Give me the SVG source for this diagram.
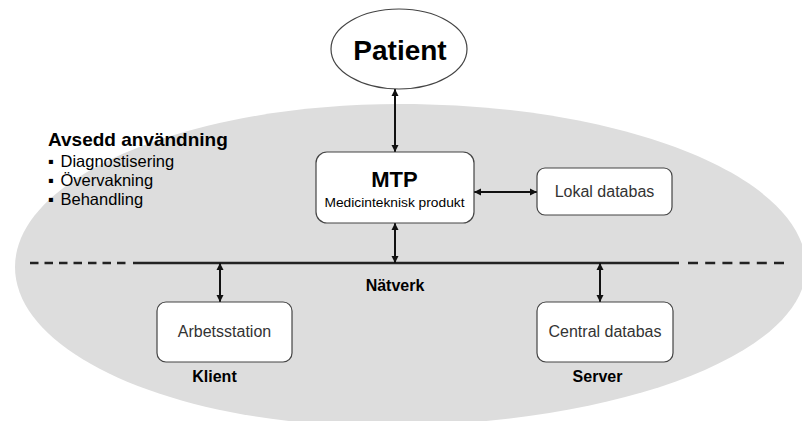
<svg xmlns="http://www.w3.org/2000/svg" width="802" height="421" viewBox="0 0 802 421">
<style>
  text { font-family: "Liberation Sans", Arial, "DejaVu Sans", sans-serif; fill: #000; }
  .box { fill: #fff; stroke: #444; stroke-width: 1.2; }
  .lbl { font-size: 16px; fill: #333; text-anchor: middle; }
  .bold { font-weight: bold; }
  .conn { stroke: #111; stroke-width: 2; fill: none; marker-start: url(#ah); marker-end: url(#ah); }
  .net { stroke: #222; stroke-width: 2.5; fill: none; }
</style>
<defs>
  <marker id="ah" markerUnits="userSpaceOnUse" markerWidth="8" markerHeight="8" refX="7" refY="3.5" orient="auto-start-reverse" viewBox="0 0 8 7">
    <path d="M0,0 L7,3.5 L0,7 z" fill="#111"/>
  </marker>
</defs>
<rect width="802" height="421" fill="#fff"/>
<path id="area" d="M15,267 C15,177 187.4,104 400,104 C624.2,104 806,177 806,267 C806,354.8 615.3,426 380,426 C178.4,426 15,354.8 15,267 Z" fill="#dddddd"/>

<g id="intended-use">
  <text x="48" y="146" class="bold" font-size="19">Avsedd användning</text>
  <text font-size="16.5" fill="#111"><tspan x="48" y="167">▪</tspan><tspan x="60.5" y="167">Diagnostisering</tspan></text>
  <text font-size="16.5" fill="#111"><tspan x="48" y="186">▪</tspan><tspan x="60.5" y="186">Övervakning</tspan></text>
  <text font-size="16.5" fill="#111"><tspan x="48" y="205">▪</tspan><tspan x="60.5" y="205">Behandling</tspan></text>
</g>

<g id="network">
  <line class="net" x1="30" y1="263" x2="127" y2="263" stroke-dasharray="8.5 6"/>
  <line class="net" x1="133" y1="263" x2="679" y2="263"/>
  <line class="net" x1="688" y1="263" x2="784" y2="263" stroke-dasharray="10 7.2"/>
  <text x="395" y="291" class="bold" font-size="16" text-anchor="middle">Nätverk</text>
</g>

<g id="connectors">
  <line class="conn" x1="395" y1="89" x2="395" y2="152"/>
  <line class="conn" x1="395" y1="223" x2="395" y2="263"/>
  <line class="conn" x1="474" y1="192" x2="537" y2="192"/>
  <line class="conn" x1="220" y1="263" x2="220" y2="302"/>
  <line class="conn" x1="600" y1="263" x2="600" y2="302"/>
</g>

<g id="patient">
  <ellipse cx="399" cy="49" rx="68" ry="40" fill="#fff" stroke="#444" stroke-width="1.2"/>
  <text x="400" y="60" class="bold" font-size="28" text-anchor="middle">Patient</text>
</g>

<g id="mtp">
  <rect class="box" x="316" y="152" width="158" height="71" rx="11"/>
  <text x="394.5" y="187" class="bold" font-size="22" text-anchor="middle">MTP</text>
  <text x="394.5" y="207" font-size="12" text-anchor="middle" textLength="140" lengthAdjust="spacingAndGlyphs" fill="#111">Medicinteknisk produkt</text>
</g>

<g id="lokal-databas">
  <rect class="box" x="537" y="168" width="135" height="47" rx="8"/>
  <text x="604.5" y="197" class="lbl">Lokal databas</text>
</g>

<g id="arbetsstation">
  <rect class="box" x="157" y="302" width="135" height="60" rx="9"/>
  <text x="224.5" y="337" class="lbl">Arbetsstation</text>
  <text x="214.5" y="382" class="bold" font-size="16" text-anchor="middle">Klient</text>
</g>

<g id="central-databas">
  <rect class="box" x="537" y="302" width="136" height="60" rx="9"/>
  <text x="605" y="337" class="lbl">Central databas</text>
  <text x="597.5" y="382" class="bold" font-size="16" text-anchor="middle">Server</text>
</g>
</svg>
